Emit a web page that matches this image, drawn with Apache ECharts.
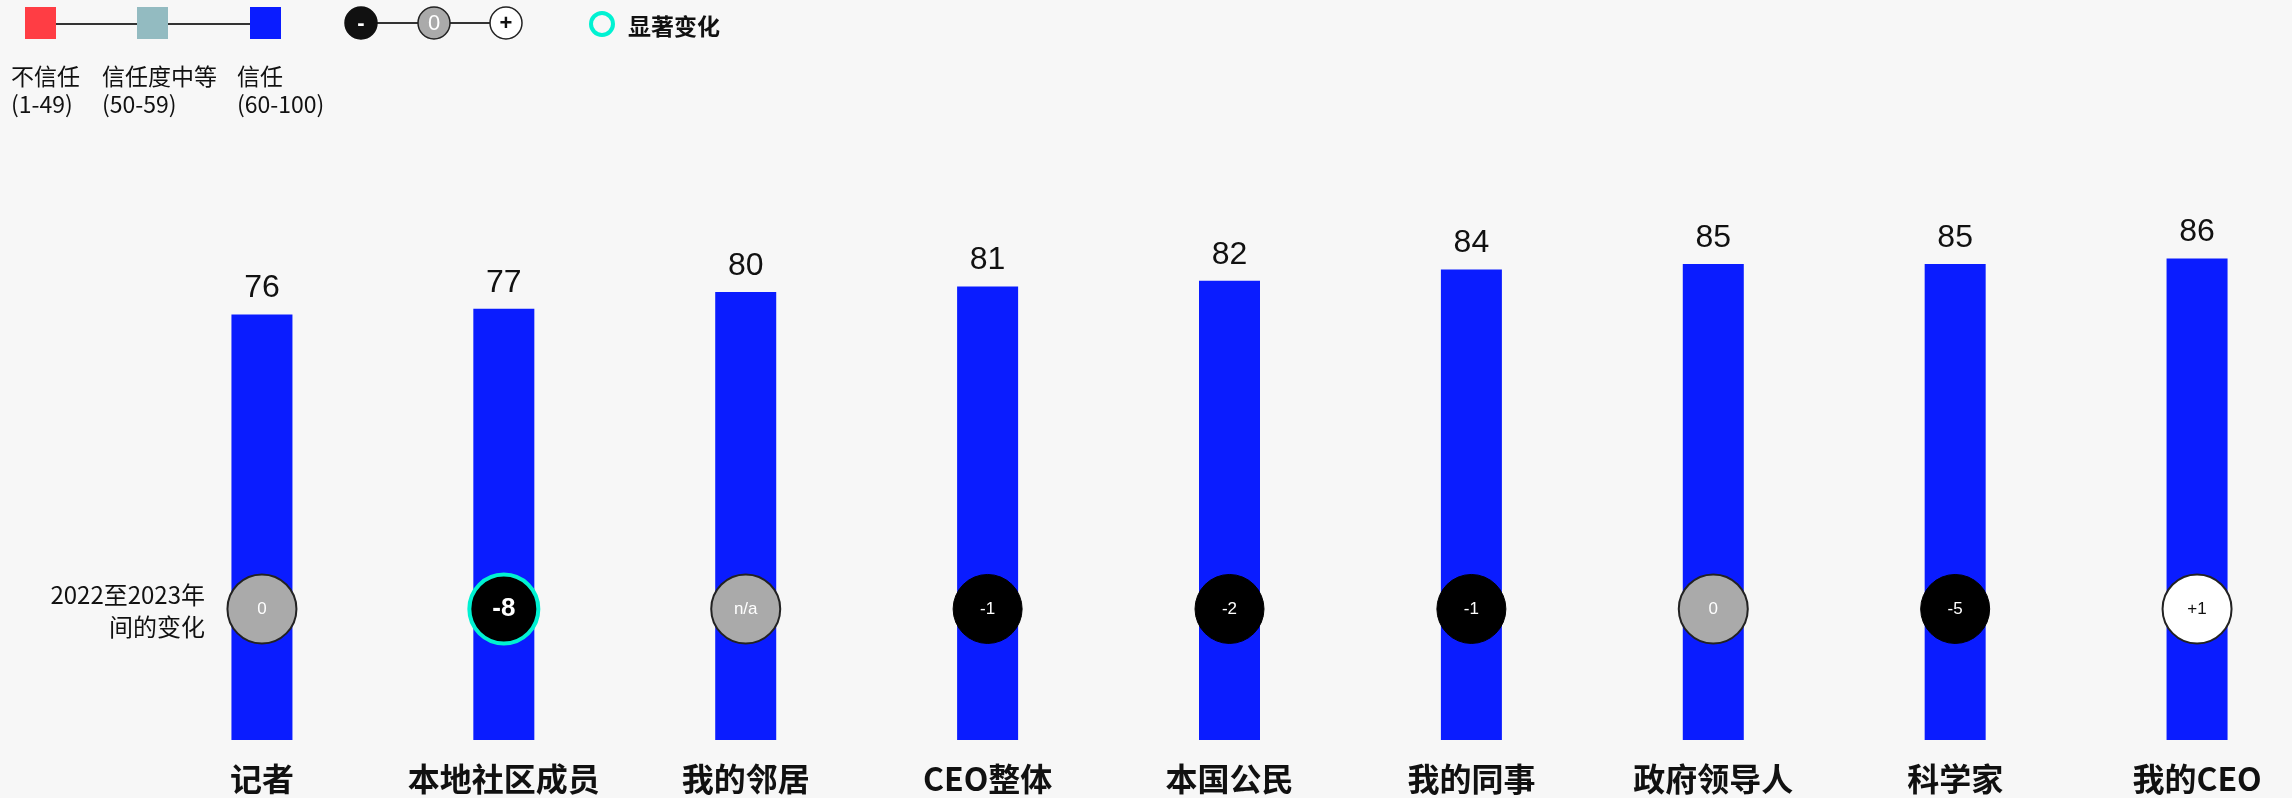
<!DOCTYPE html>
<html>
<head>
<meta charset="utf-8">
<script src="https://cdn.jsdelivr.net/npm/echarts@6/dist/echarts.min.js"></script>
<style>
  html, body { margin: 0; padding: 0; background: #f7f7f7; }
  #chart { width: 2292px; height: 798px; }
</style>
</head>
<body>
<div id="chart"></div>
<script>
// Trust levels per group and change from 2022 to 2023
const categories = ['记者', '本地社区成员', '我的邻居', 'CEO整体', '本国公民', '我的同事', '政府领导人', '科学家', '我的CEO'];
const trustScores = [76, 77, 80, 81, 82, 84, 85, 85, 86];
const changeLabels = ['0', '-8', 'n/a', '-1', '-2', '-1', '0', '-5', '+1'];
const significantChange = [false, true, false, false, false, false, false, false, false];
const legendBands = ['不信任', '信任度中等', '信任'];
const legendRanges = ['(1-49)', '(50-59)', '(60-100)'];

const BLUE = '#0a1cff';
const TEAL_RING = '#00f2d2';
const SANS = '"Liberation Sans", Arial, sans-serif';
const CJK = '"Noto Sans CJK SC", "Liberation Sans", sans-serif';
// vertical placement (in axis units) of the row of change markers
const CHANGE_ROW = 23.4;

function changeStyle(label, sig) {
  let fill = '#aaaaaa', text = '#ffffff', border = '#222222', bw = 2;
  if (label.startsWith('-')) { fill = '#000000'; border = '#000000'; bw = 1; }
  else if (label.startsWith('+')) { fill = '#ffffff'; text = '#111111'; }
  if (sig) { border = TEAL_RING; bw = 4; }
  return { fill, text, border, bw };
}

const changeData = changeLabels.map((lab, i) => {
  const s = changeStyle(lab, significantChange[i]);
  return {
    value: [i, CHANGE_ROW],
    name: lab,
    itemStyle: { color: s.fill, borderColor: s.border, borderWidth: s.bw, opacity: 1 },
    label: {
      show: true, position: 'inside', formatter: lab, color: s.text,
      fontFamily: SANS,
      fontSize: significantChange[i] ? 26 : 17,
      fontWeight: significantChange[i] ? 'bold' : 'normal'
    }
  };
});

// Legend drawn with graphic elements
const legendGraphics = [];
const squareColors = ['#ff3d44', '#93bbc1', BLUE];
const squareX = [25, 137, 250];
const legendTextX = [11, 102, 237];
legendGraphics.push({ type: 'line', shape: { x1: 55, y1: 24, x2: 250, y2: 24 }, style: { stroke: '#333', lineWidth: 2 }, z: 1 });
squareColors.forEach((c, i) => {
  legendGraphics.push({ type: 'rect', shape: { x: squareX[i], y: 7, width: 31, height: 32 }, style: { fill: c }, z: 2 });
  legendGraphics.push({
    type: 'text', left: legendTextX[i], top: 62,
    style: { text: legendBands[i] + '\n' + legendRanges[i], fill: '#111', font: '23px ' + CJK, lineHeight: 28 }
  });
});
legendGraphics.push({ type: 'line', shape: { x1: 361, y1: 23, x2: 506, y2: 23 }, style: { stroke: '#333', lineWidth: 2 }, z: 1 });
[[361, '#111111', '#111111', '-', '#ffffff', 'bold'], [434, '#aaaaaa', '#222', '0', '#ffffff', 'normal'], [506, '#ffffff', '#222', '+', '#111111', 'bold']]
  .forEach(([cx, fill, stroke, t, tc, fw]) => {
    legendGraphics.push({ type: 'circle', shape: { cx: cx, cy: 23, r: 16 }, style: { fill: fill, stroke: stroke, lineWidth: 1.5 }, z: 2 });
    legendGraphics.push({
      type: 'text', x: cx, y: 24, z: 3,
      style: { text: t, fill: tc, font: fw + ' 22px ' + SANS, textAlign: 'center', textVerticalAlign: 'middle' }
    });
  });
legendGraphics.push({ type: 'circle', shape: { cx: 602, cy: 24, r: 11 }, style: { fill: 'none', stroke: TEAL_RING, lineWidth: 4 } });
legendGraphics.push({
  type: 'text', x: 628, y: 26,
  style: { text: '显著变化', fill: '#111', font: 'bold 23px ' + CJK, textVerticalAlign: 'middle' }
});
// Row caption for change markers
legendGraphics.push({
  type: 'text', x: 205, y: 611,
  style: { text: '2022至2023年\n间的变化', fill: '#111', font: '24px ' + CJK, textAlign: 'right', textVerticalAlign: 'middle', lineHeight: 32 }
});

const chart = echarts.init(document.getElementById('chart'));
chart.setOption({
  backgroundColor: '#f7f7f7',
  animation: false,
  grid: { left: 141, top: 180, width: 2177, height: 560, outerBoundsMode: 'none', containLabel: false },
  xAxis: {
    type: 'category',
    data: categories,
    axisLine: { show: false },
    axisTick: { show: false },
    axisLabel: { margin: 23, color: '#111', fontFamily: CJK, fontSize: 32, fontWeight: 'bold', interval: 0 }
  },
  yAxis: { type: 'value', min: 0, max: 100, show: false, splitLine: { show: false } },
  series: [
    {
      type: 'bar',
      data: trustScores,
      barWidth: 61,
      itemStyle: { color: BLUE },
      label: { show: true, position: 'top', distance: 10, color: '#111', fontFamily: SANS, fontSize: 32, lineHeight: 32 },
      z: 1
    },
    {
      type: 'scatter',
      data: changeData,
      symbol: 'circle',
      symbolSize: 69,
      itemStyle: { opacity: 1 },
      z: 3
    }
  ],
  graphic: legendGraphics
});
</script>
</body>
</html>
